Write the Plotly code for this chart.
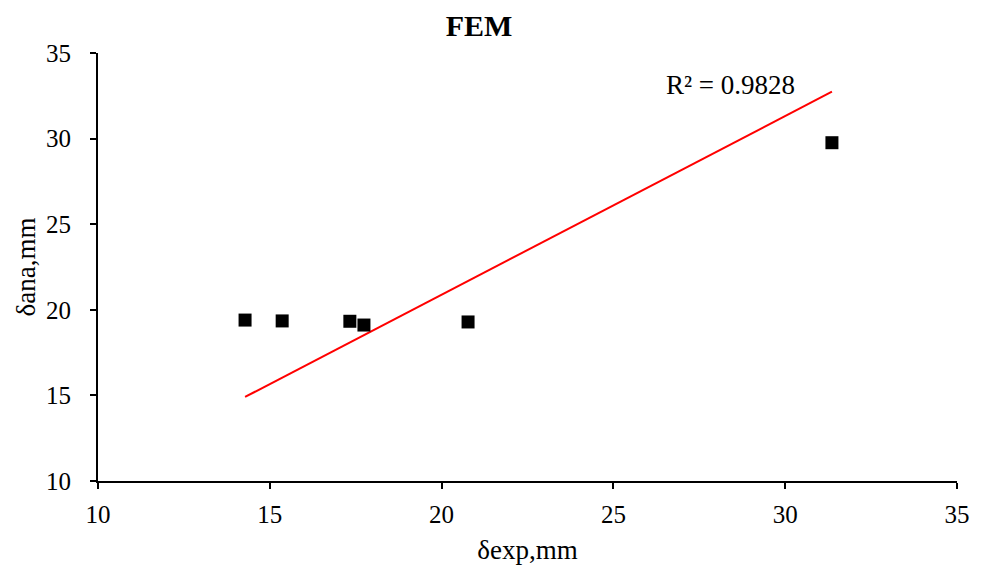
import plotly.graph_objects as go

# Data
delta_exp = [14.28, 15.36, 17.33, 17.74, 20.77, 31.36]
delta_ana = [19.40, 19.35, 19.33, 19.11, 19.29, 29.76]

# Trend line endpoints (as drawn in the reference)
trend_x = [14.28, 31.36]
trend_y = [14.91, 32.74]

r2_label = "R² = 0.9828"
title_text = "FEM"
x_title = "δexp,mm"
y_title = "δana,mm"
tick_vals = [10, 15, 20, 25, 30, 35]

FONT = "Liberation Serif, Times New Roman, serif"

fig = go.Figure()
fig.add_trace(go.Scatter(
    x=trend_x, y=trend_y, mode="lines",
    line=dict(color="#ff0000", width=2), showlegend=False, hoverinfo="skip"))
fig.add_trace(go.Scatter(
    x=delta_exp, y=delta_ana, mode="markers",
    marker=dict(symbol="square", size=13, color="black"),
    showlegend=False))

fig.add_annotation(x=28.42, y=33.13, xref="x", yref="y", text=r2_label,
                   showarrow=False, yanchor="middle",
                   font=dict(family=FONT, size=27, color="black"))

fig.update_layout(
    width=987, height=565,
    margin=dict(l=98, r=30, t=53, b=84),
    paper_bgcolor="white", plot_bgcolor="white",
    font=dict(family=FONT, size=25, color="black"),
    title=dict(text="<b>" + title_text + "</b>", x=479 / 987, xanchor="center",
               y=1 - 25 / 565, yanchor="middle", yref="container",
               font=dict(family=FONT, size=30, color="black")),
)
fig.update_xaxes(range=[10, 35], tickvals=tick_vals, showgrid=False, zeroline=False,
                 showline=True, linecolor="black", linewidth=2, automargin=False,
                 ticks="outside", ticklen=6, tickwidth=2, tickcolor="black",
                 ticklabelstandoff=4,
                 tickfont=dict(family=FONT, size=25, color="black"),
                 title=dict(text=x_title, standoff=13,
                            font=dict(family=FONT, size=27, color="black")))
fig.update_yaxes(range=[10, 35], tickvals=tick_vals, showgrid=False, zeroline=False,
                 showline=True, linecolor="black", linewidth=2, automargin=False,
                 ticks="outside", ticklen=6, tickwidth=2, tickcolor="black",
                 ticklabelstandoff=14,
                 tickfont=dict(family=FONT, size=25, color="black"),
                 title=dict(text=y_title, standoff=3,
                            font=dict(family=FONT, size=27, color="black")))

fig.write_html("out.html")
